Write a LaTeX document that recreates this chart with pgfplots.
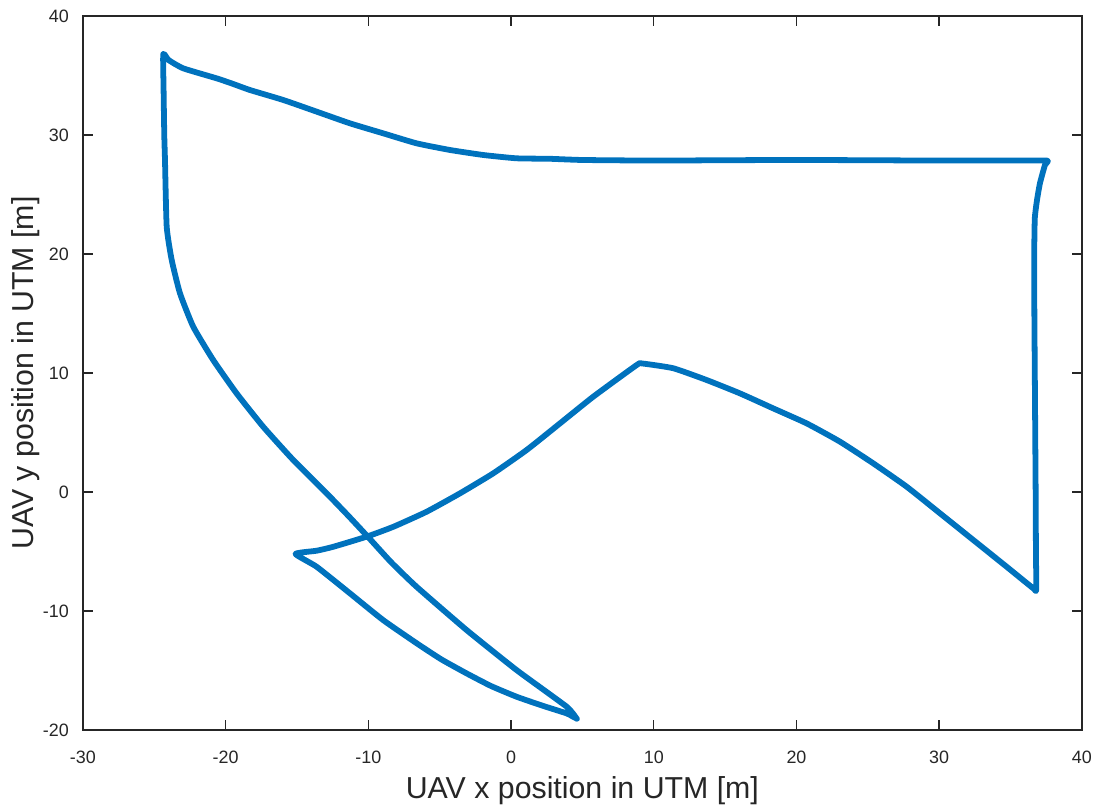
\documentclass[border=0pt]{standalone}
\usepackage{fontspec}
\setmainfont{Liberation Sans}
\usepackage{pgfplots}
\pgfplotsset{compat=1.18}

\definecolor{trackblue}{rgb}{0,0.447,0.741}
\definecolor{axgray}{rgb}{0.15,0.15,0.15}

\begin{document}
\begin{tikzpicture}
\begin{axis}[
  name=ax,
  scale only axis,
  width=362.6pt, height=259.2pt,
  xmin=-30, xmax=40, ymin=-20, ymax=40,
  xtick={-30,-20,...,40}, ytick={-20,-10,...,40},
  tick align=inside,
  major tick length=3.6pt,
  axis line style={axgray, line width=0.5pt},
  every tick/.style={axgray, line width=0.5pt},
  /pgf/number format/assume math mode=true,
  ticklabel style={font=\fontsize{6.5}{7.5}\selectfont, text=axgray},
  xticklabel style={yshift=-3.9pt},
  yticklabel style={xshift=-1.6pt},
  xlabel={UAV x position in UTM [m]},
  ylabel={UAV y position in UTM [m]},
  label style={font=\fontsize{11}{13}\selectfont, text=axgray},
  xlabel style={at={(axis description cs:0.5,0)}, anchor=base, yshift=-25pt},
  ylabel style={at={([xshift=-17.8pt]axis description cs:0,0.5)}, anchor=base},
]
% flight track of the UAV (closed loop)
\addplot[trackblue, line width=2.1pt, line join=round, line cap=round,
         smooth, tension=0.3] coordinates {
  (4.62,-19.05) (4.3,-18.85) (3.9,-18.6) (2.2,-17.95) (0.39,-17.2)
  (-1.4,-16.3) (-3.11,-15.24) (-4.9,-14.05) (-6.62,-12.7) (-8.96,-10.76)
  (-11.29,-8.51) (-13.62,-6.28) (-15.1,-5.2)
  (-13.62,-4.93) (-12.46,-4.6) (-10.12,-3.75) (-8.25,-2.92) (-5.91,-1.65)
  (-3.58,-0.11) (-1.25,1.57) (1.09,3.53) (3.43,5.77) (5.76,8.01)
  (8.8,10.67) (9.2,10.8) (11.37,10.4) (13.71,9.41) (16.04,8.29)
  (18.37,7.03) (20.71,5.77) (23.05,4.23) (25.38,2.41) (27.72,0.45)
  (30.06,-1.79) (32.39,-4.03) (34.73,-6.28) (36.59,-8.09) (36.8,-8.2)
  (36.78,-5) (36.76,0) (36.73,5) (36.7,10) (36.67,15) (36.66,20)
  (36.7,23) (36.85,24.5) (37.06,25.94) (37.41,27.48) (37.55,27.85)
  (35,27.85) (30,27.85) (25,27.88) (20,27.9) (15,27.88) (10,27.85)
  (5,27.9) (2.73,28.0) (0.39,28.04) (-1.95,28.32) (-4.28,28.74)
  (-6.62,29.3) (-8.96,30.14) (-11.29,30.98) (-13.62,31.96) (-15.96,32.94)
  (-18.3,33.78) (-19.5,34.3) (-20.63,34.76) (-22.97,35.6) (-24.0,36.3)
  (-24.37,36.8) (-24.35,34) (-24.3,30) (-24.25,27.9) (-24.13,22.29)
  (-23.78,19.5) (-23.2,16.7) (-22.27,13.89) (-20.87,11.09) (-19.23,8.29)
  (-17.37,5.49) (-15.26,2.69) (-12.92,-0.11) (-11.4,-2.0) (-10.0,-3.8)
  (-8.4,-5.9) (-6.62,-7.96) (-3.11,-11.6) (0.39,-14.96) (3.9,-18.04)
  (4.6,-19.05)
};
\end{axis}
\pgfresetboundingbox
\path ([shift={(-30.1pt,-28.3pt)}]ax.south west) rectangle ([shift={(7.3pt,5.8pt)}]ax.north east);
\end{tikzpicture}
\end{document}
